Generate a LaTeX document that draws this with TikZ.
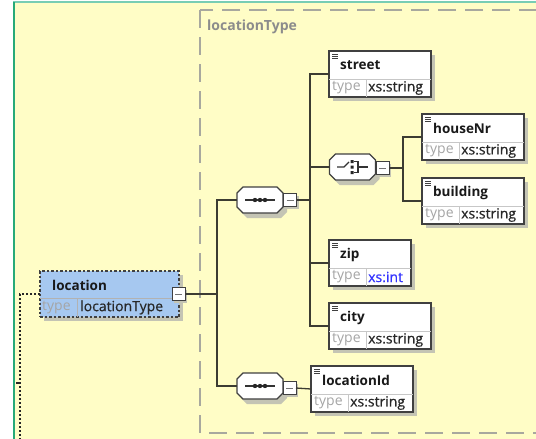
\documentclass[tikz,border=0pt]{standalone}
\usepackage{fontspec}
\setmainfont{Open Sans}
\newfontfamily\valfont[FakeBold=0.6]{Open Sans}
\usetikzlibrary{calc}
\definecolor{bgyellow}{RGB}{255,253,198}
\definecolor{topline}{RGB}{120,205,180}
\definecolor{leftline}{RGB}{40,170,120}
\definecolor{grpgray}{RGB}{168,168,158}
\definecolor{shadowcol}{RGB}{196,196,180}
\definecolor{boxline}{RGB}{64,64,64}
\definecolor{conncol}{RGB}{60,60,50}
\definecolor{typegray}{RGB}{165,165,165}
\definecolor{valdark}{RGB}{40,40,40}
\definecolor{intblue}{RGB}{50,50,255}
\definecolor{locblue}{RGB}{166,200,240}
\tikzset{
  ebox/.style={rectangle, draw=boxline, fill=white, line width=1.2pt, minimum height=46, inner sep=0, outer sep=0},
  lbox/.style={rectangle, draw=boxline, fill=locblue, line width=1.2pt, dash pattern=on 2.5pt off 2pt, minimum height=46, inner sep=0, outer sep=0},
  shadowc/.style={fill=shadowcol},
  divc/.style={draw=black!22, line width=1pt},
  nametext/.style={font=\fontsize{13.5}{15}\selectfont\bfseries, text=black!90, inner sep=0, anchor=west},
  typetext/.style={font=\fontsize{14}{16}\selectfont, text=typegray, inner sep=0, anchor=west},
  valtext/.style={font=\valfont\fontsize{14}{16}\selectfont, inner sep=0, anchor=west},
  mbox/.style={rectangle, draw=boxline, fill=white, line width=1pt, minimum size=13, inner sep=0, outer sep=0},
  conn/.style={draw=conncol, line width=1.3pt},
  dotconn/.style={draw=black!85, line width=1.2pt, dash pattern=on 2pt off 2pt},
  grpdash/.style={draw=grpgray, line width=1.5pt, dash pattern=on 18pt off 9pt},
  grplabel/.style={font=\fontsize{14}{16}\selectfont\bfseries, text=black!45, inner sep=0, anchor=west},
  obox/.style={draw=boxline, fill=white, line width=1.2pt},
  iconline/.style={draw=black!80, line width=1.1pt},
}
% element box: name, cx, cy, width, title, type value, value colour
\newcommand\xelem[7]{%
  \fill[shadowc] (#2-#4/2+4,#3-23+4) rectangle (#2+#4/2+4,#3+23+4);
  \node[ebox, minimum width=#4] (#1) at (#2,#3) {};
  \draw[divc] ([yshift=-5pt]#1.west) -- ([yshift=-5pt]#1.east);
  \draw[divc] ($(#1.north west)+(37,28)$) -- ($(#1.south west)+(37,0)$);
  \draw[boxline, line width=0.8pt] ($(#1.north west)+(3,3)$) -- +(6,0)
        ($(#1.north west)+(3,5)$) -- +(6,0) ($(#1.north west)+(3,7)$) -- +(6,0);
  \node[nametext] (#1-n) at ($(#1.north west)+(11,14.5)$) {#5};
  \node[typetext] (#1-t) at ($(#1.south west)+(3,-9)$) {type};
  \node[valtext, text=#7] (#1-v) at ($(#1.south west)+(39,-9)$) {#6};
}
% minus box
\newcommand\xminus[3]{%
  \fill[shadowc] (#2-6.5+2,#3-6.5+2) rectangle (#2+6.5+2,#3+6.5+2);
  \node[mbox] (#1) at (#2,#3) {};
  \draw[draw=black!55, line width=1pt] ($(#1.west)+(3,0)$) -- ($(#1.east)+(-3,0)$);
}
% octagon compositor
\newcommand\xocto[3]{%
  \fill[shadowc, shift={(#2+4,#3+5)}] (-23,-7)--(-17,-13)--(17,-13)--(23,-7)--(23,7)--(17,13)--(-17,13)--(-23,7)--cycle;
  \node[minimum width=46, minimum height=26, inner sep=0, outer sep=0] (#1) at (#2,#3) {};
  \filldraw[obox, shift={(#2,#3)}] (-23,-7)--(-17,-13)--(17,-13)--(23,-7)--(23,7)--(17,13)--(-17,13)--(-23,7)--cycle;
}
\begin{document}
\begin{tikzpicture}[x=1pt,y=-1pt]
\useasboundingbox (0,0) rectangle (536,439);
% background
\fill[bgyellow] (13,2) rectangle (540,445);
\draw[topline, line width=2.5pt] (13,2) -- (540,2);
\draw[leftline, line width=2pt] (14,2) -- (14,445);
% group
\draw[grpdash] (200,10) rectangle (580,433);
\node[grplabel] (grplbl) at (207,27) {locationType};

% location element
\fill[shadowc] (44,275) rectangle (183,321);
\node[lbox, minimum width=139] (location) at (109.5,294) {};
\draw[divc, draw=black!30] (40,298) -- (179,298);
\draw[divc, draw=black!30] (77,298) -- (77,317);
\node[nametext] (location-n) at (52,285) {location};
\node[typetext] (location-t) at (42,307.5) {type};
\node[valtext, text=valdark] (location-v) at (80,307.5) {locationType};
\xminus{locm}{178.5}{294}

% left dotted connector
\coordinate (dotcorner) at (20,294);
\coordinate (dotend) at (20,445);
\draw[dotconn] (location.west) -- (dotcorner) -- (dotend);
\coordinate (tickA) at (16,383);
\coordinate (tickB) at (20,383);
\draw[conn, draw=black!85, line width=1.2pt] (tickA) -- (tickB);

% sequence 1
\xocto{seqA}{260}{200}
\draw[iconline] (245,200) -- (275,200);
\fill[black!85] (255,200) circle (2.2) (260,200) circle (2.2) (265,200) circle (2.2);
\xminus{seqAm}{290}{200}

% sequence 2
\xocto{seqB}{260}{386}
\draw[iconline] (245,386) -- (275,386);
\fill[black!85] (255,386) circle (2.2) (260,386) circle (2.2) (265,386) circle (2.2);
\xminus{seqBm}{289.5}{388}

% choice
\xocto{chc}{352.5}{167}
\draw[iconline] (337,167) -- (344,167) -- (349,162);
\fill[black!85] (350.5,160) rectangle (353.5,163) (350.5,165.5) rectangle (353.5,168.5) (350.5,171) rectangle (353.5,174);
\draw[iconline] (353.5,161.5) -- (358,161.5) -- (358,172.5) -- (353.5,172.5) (358,167) -- (368,167);
\xminus{chcm}{382.5}{168}

% elements
\xelem{street}{380}{74}{102}{street}{xs:string}{valdark}
\xelem{houseNr}{473}{137}{102}{houseNr}{xs:string}{valdark}
\xelem{building}{473}{201}{102}{building}{xs:string}{valdark}
\xelem{zip}{370}{263}{82}{zip}{xs:int}{intblue}
\xelem{city}{380}{326}{102}{city}{xs:string}{valdark}
\xelem{locationId}{362}{389}{102}{locationId}{xs:string}{valdark}

% connectors
\coordinate (tzero) at (217,294);
\coordinate (tone) at (310,200);
\coordinate (ttwo) at (403,168);
\draw[conn] (locm.east) -- (tzero);
\draw[conn] (seqA.west) -| (tzero);
\draw[conn] (seqB.west) -| (tzero);
\draw[conn] (seqAm.east) -- (tone);
\draw[conn] (street.west) -| (tone);
\draw[conn] (city.west) -| (tone);
\draw[conn] (zip.west) -| (tone);
\draw[conn] (chc.west) -| (tone);
\draw[conn] (chcm.east) -- (ttwo);
\draw[conn] (houseNr.west) -| (ttwo);
\draw[conn] (building.west) -| (ttwo);
\draw[conn] (seqBm.east) -- (locationId.west);
\end{tikzpicture}
\end{document}
